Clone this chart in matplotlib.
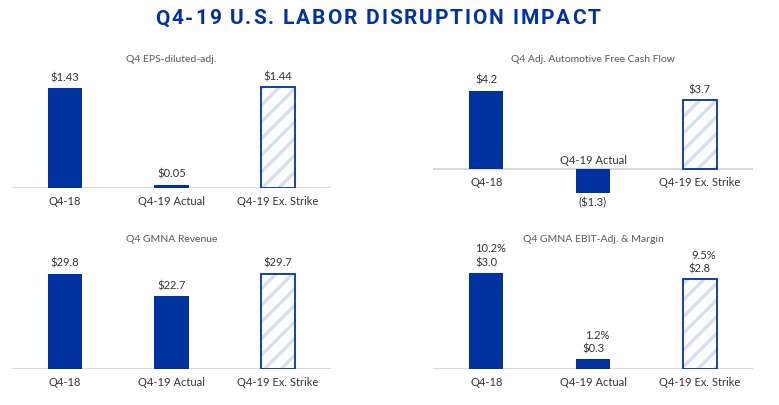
import matplotlib
matplotlib.use("Agg")
import matplotlib.pyplot as plt
from matplotlib.transforms import offset_copy
from matplotlib.font_manager import FontProperties

plt.rcParams['font.family'] = ['Lato', 'DejaVu Sans']
plt.rcParams['hatch.linewidth'] = 2.4

categories = ["Q4-18", "Q4-19 Actual", "Q4-19 Ex. Strike"]

eps_values = [1.43, 0.05, 1.44]
eps_labels = ["$1.43", "$0.05", "$1.44"]

fcf_values = [4.2, -1.3, 3.7]
fcf_labels = ["$4.2", "($1.3)", "$3.7"]

rev_values = [29.8, 22.7, 29.7]
rev_labels = ["$29.8", "$22.7", "$29.7"]

ebit_values = [3.0, 0.3, 2.8]
ebit_labels = ["$3.0", "$0.3", "$2.8"]
margin_labels = ["10.2%", "1.2%", "9.5%"]

panel_titles = ["Q4 EPS-diluted-adj.", "Q4 Adj. Automotive Free Cash Flow",
                "Q4 GMNA Revenue", "Q4 GMNA EBIT-Adj. & Margin"]
main_title = "Q4-19 U.S. LABOR DISRUPTION IMPACT"

BLUE = "#0033A0"
HATCH = "#D6DEF0"
TXT = "#333333"
GRAY = "#595959"
W, H = 779, 405
LFS = 8.0

fig = plt.figure(figsize=(W / 100, H / 100), dpi=100)


def make_ax(x0, x1, y_top, y_bot, ylim):
    ax = fig.add_axes([x0 / W, 1 - y_bot / H, (x1 - x0) / W, (y_bot - y_top) / H])
    ax.set_xlim(-0.5, 2.5)
    ax.set_ylim(*ylim)
    ax.axis("off")
    return ax


def draw_panel(ax, values, labels, title, title_y_px, extra=None):
    x = list(range(len(values)))
    ax.bar(x[:2], values[:2], width=0.32, color=BLUE, linewidth=0, zorder=2)
    # hatched bar: light stripes plus blue outline
    ax.bar(x[2:], values[2:], width=0.32, facecolor="white", edgecolor=HATCH,
           hatch="//", linewidth=0, zorder=2)
    ax.bar(x[2:], values[2:], width=0.32, facecolor="none", edgecolor=BLUE,
           linewidth=1.3, zorder=3)
    ax.axhline(0, color="#D9D9D9", linewidth=1.5, zorder=1)
    for i, v in enumerate(values):
        if v >= 0:
            cy, vy = -14, 10.5
        else:
            cy, vy = 9, -10
        tr = offset_copy(ax.transData, fig=fig, x=0, y=cy, units="dots")
        ax.text(i, 0, categories[i], transform=tr, ha="center", va="center",
                fontsize=LFS, color=TXT)
        tr2 = offset_copy(ax.transData, fig=fig, x=0, y=vy, units="dots")
        ax.text(i, v, labels[i], transform=tr2, ha="center", va="center",
                fontsize=LFS, color=TXT)
    if extra is not None:
        for i, v in enumerate(values):
            tr3 = offset_copy(ax.transData, fig=fig, x=4, y=24, units="dots")
            ax.text(i, v, extra[i], transform=tr3, ha="center", va="center",
                    fontsize=LFS, color=TXT)
    cx = (ax.get_position().x0 + ax.get_position().x1) / 2
    fig.text(cx, 1 - title_y_px / H, title, ha="center", va="center",
             fontsize=7.5, color=GRAY)


ax1 = make_ax(12, 331, 70, 188, (0, 118 / 69.9))
draw_panel(ax1, eps_values, eps_labels, panel_titles[0], 60)

ax2 = make_ax(433, 753, 70, 210, (-41 / 18.6, 99 / 18.6))
draw_panel(ax2, fcf_values, fcf_labels, panel_titles[1], 59)

ax3 = make_ax(12, 331, 250, 369, (0, 119 / 3.2))
draw_panel(ax3, rev_values, rev_labels, panel_titles[2], 240)

ax4 = make_ax(433, 753, 250, 369, (0, 119 / 32))
draw_panel(ax4, ebit_values, ebit_labels, panel_titles[3], 240, extra=margin_labels)

# main title with letter spacing (tracking), laid out character by character
fp = FontProperties(family=["Roboto", "DejaVu Sans"], weight="bold", size=15)
renderer = fig.canvas.get_renderer()
widths = []
for k in range(len(main_title) + 1):
    w, _, _ = renderer.get_text_width_height_descent(main_title[:k], fp, ismath=False)
    widths.append(w)
x_start, x_end = 155, 600
track = (x_end - x_start - widths[-1]) / (len(main_title) - 1)
for k, ch in enumerate(main_title):
    if ch == " ":
        continue
    xpx = x_start + widths[k] + track * k
    fig.text(xpx / W, 1 - 19 / H, ch, ha="left", va="center",
             fontproperties=fp, color=BLUE)

fig.savefig("out.png", dpi=100)
